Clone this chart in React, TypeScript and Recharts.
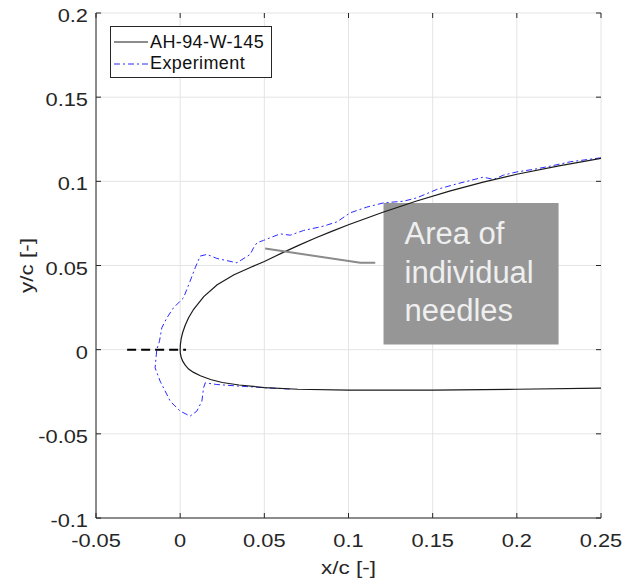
import { CartesianGrid, Line, LineChart, ReferenceArea, XAxis, YAxis } from 'recharts'

// Airfoil leading-edge contour vs. measured ice/needle outline.
// All coordinates are chord-normalised (x/c, y/c).

const xTicks = [-0.05, 0, 0.05, 0.1, 0.15, 0.2, 0.25]
const yTicks = [-0.1, -0.05, 0, 0.05, 0.1, 0.15, 0.2]

// upper surface, trailing side -> leading edge
const upperX = [0.25, 0.225, 0.2, 0.18, 0.16, 0.14, 0.12, 0.1, 0.09, 0.08, 0.07, 0.06, 0.05, 0.042, 0.032, 0.022, 0.014, 0.008, 0.005, 0.003, 0.0015, 0.0006, 0.0001, 0]
const upperY = [0.1136, 0.1092, 0.1042, 0.0995, 0.0942, 0.0882, 0.0815, 0.0742, 0.0703, 0.0662, 0.0618, 0.0572, 0.0524, 0.049, 0.0445, 0.0385, 0.0315, 0.024, 0.019, 0.0145, 0.0102, 0.0065, 0.0028, 0]

// lower surface, leading edge -> trailing side
const lowerX = [0.0001, 0.0006, 0.0015, 0.003, 0.005, 0.008, 0.012, 0.018, 0.025, 0.035, 0.05, 0.07, 0.1, 0.15, 0.2, 0.25]
const lowerY = [-0.0022, -0.0045, -0.0068, -0.0092, -0.0115, -0.0135, -0.0155, -0.0177, -0.0195, -0.021, -0.0225, -0.0235, -0.024, -0.024, -0.0235, -0.0228]

// measured outline, upper right around the nose to the lower side
const expX = [0.25, 0.2317, 0.2198, 0.2099, 0.2, 0.1921, 0.1862, 0.1802, 0.1644, 0.1525, 0.1406, 0.1327, 0.1208, 0.1109, 0.101, 0.0931, 0.0852, 0.0733, 0.0654, 0.0594, 0.0495, 0.0456, 0.0436, 0.0416, 0.0337, 0.0218, 0.0159, 0.0119, 0.0089, 0.0059, 0.002, -0.004, -0.0079, -0.0109, -0.0123, -0.0139, -0.0149, -0.0119, -0.0059, 0, 0.0059, 0.0099, 0.0129, 0.0139, 0.0149, 0.0218, 0.0357, 0.05, 0.065]
const expY = [0.114, 0.1116, 0.109, 0.1071, 0.1056, 0.1037, 0.1011, 0.1025, 0.0985, 0.0952, 0.0902, 0.0882, 0.0872, 0.0847, 0.0813, 0.0759, 0.0734, 0.0708, 0.068, 0.0688, 0.0649, 0.0635, 0.0605, 0.0566, 0.0516, 0.0542, 0.0566, 0.0556, 0.0486, 0.0407, 0.0308, 0.0248, 0.0189, 0.013, 0.005, 0, -0.0108, -0.0187, -0.0306, -0.0365, -0.0395, -0.0365, -0.0306, -0.0227, -0.0197, -0.0207, -0.0217, -0.0226, -0.0234]

// stagnation line ahead of the nose
const chordX = [-0.0315, 0.0035]
const chordY = [0, 0]

// callout pointer and box
const pointerX = [0.0505, 0.107, 0.1159]
const pointerY = [0.0601, 0.0516, 0.0516]
const calloutBox = { x1: 0.1208, x2: 0.2248, y1: 0.0031, y2: 0.0872 }
const calloutLines = ['Area of', 'individual', 'needles']

const legendItems = [
  { label: 'AH-94-W-145', color: '#1a1a1a', dash: undefined },
  { label: 'Experiment', color: '#2a2aff', dash: '6 3 2 3' },
]

const toPoints = (xs: number[], ys: number[]) => xs.map((x, i) => ({ x, y: ys[i] }))

const airfoil = [...toPoints(upperX, upperY), ...toPoints(lowerX, lowerY)]
const experiment = toPoints(expX, expY)
const chord = toPoints(chordX, chordY)
const pointer = toPoints(pointerX, pointerY)

const W = 623
const H = 582
const LEFT = 96
const TOP = 13
const SIZE = 505
const RIGHT = LEFT + SIZE
const BOTTOM = TOP + SIZE
const FONT = '"Liberation Sans", Arial, Helvetica, sans-serif'
const AXIS = '#262626'
const TICK_LEN = 5
const STRETCH = 1.18 // axis text is drawn a little wide

function WideText({ x, y, anchor, size, rotate = 0, children }: any) {
  return (
    <text
      transform={`translate(${x} ${y}) rotate(${rotate}) scale(${STRETCH} 1)`}
      textAnchor={anchor}
      fill={AXIS}
      fontSize={size}
      fontFamily={FONT}
    >
      {children}
    </text>
  )
}

function XTick(props: any) {
  const { x, payload } = props
  return (
    <g>
      <line x1={x} x2={x} y1={BOTTOM} y2={BOTTOM - TICK_LEN} stroke={AXIS} />
      <line x1={x} x2={x} y1={TOP} y2={TOP + TICK_LEN} stroke={AXIS} />
      <WideText x={x} y={BOTTOM + 29} anchor="middle" size={18.5}>
        {String(payload.value)}
      </WideText>
    </g>
  )
}

function YTick(props: any) {
  const { y, payload } = props
  return (
    <g>
      <line x1={LEFT} x2={LEFT + TICK_LEN} y1={y} y2={y} stroke={AXIS} />
      <line x1={RIGHT} x2={RIGHT - TICK_LEN} y1={y} y2={y} stroke={AXIS} />
      <WideText x={LEFT - 8} y={y + 9} anchor="end" size={18.5}>
        {String(payload.value)}
      </WideText>
    </g>
  )
}

function CalloutText(props: any) {
  const { x, y } = props.viewBox
  return (
    <g>
      {calloutLines.map((t, i) => (
        <text key={t} x={x + 21} y={y + 41.6 + i * 38.3} fill="#efefef" fontSize={31} fontFamily={FONT}>
          {t}
        </text>
      ))}
    </g>
  )
}

export default function App() {
  const midY = (TOP + BOTTOM) / 2
  return (
    <div style={{ position: 'absolute', left: 0, top: 0, width: W, height: H, background: '#fff' }}>
      <LineChart width={W} height={H} margin={{ top: TOP, right: W - RIGHT, bottom: 0, left: 0 }}>
        <CartesianGrid stroke="#e4e4e4" strokeWidth={1} />
        <XAxis
          type="number"
          dataKey="x"
          domain={[-0.05, 0.25]}
          ticks={xTicks}
          allowDataOverflow
          height={H - BOTTOM}
          axisLine={{ stroke: AXIS }}
          tickLine={false}
          tick={<XTick />}
        />
        <XAxis xAxisId="top" orientation="top" type="number" domain={[-0.05, 0.25]} height={0} axisLine={{ stroke: AXIS }} tick={false} tickLine={false} />
        <YAxis
          type="number"
          dataKey="y"
          domain={[-0.1, 0.2]}
          ticks={yTicks}
          allowDataOverflow
          width={LEFT}
          axisLine={{ stroke: AXIS }}
          tickLine={false}
          tick={<YTick />}
        />
        <YAxis yAxisId="right" orientation="right" type="number" domain={[-0.1, 0.2]} width={0} axisLine={{ stroke: AXIS }} tick={false} tickLine={false} />
        <Line data={experiment} dataKey="y" type="linear" stroke="#2a2aff" strokeWidth={1} strokeDasharray="6 3 2 3" dot={false} isAnimationActive={false} />
        <Line data={airfoil} dataKey="y" type="linear" stroke="#1a1a1a" strokeWidth={1.2} dot={false} isAnimationActive={false} />
        <Line data={chord} dataKey="y" type="linear" stroke="#000" strokeWidth={2} strokeDasharray="9 5" dot={false} isAnimationActive={false} />
        <Line data={pointer} dataKey="y" type="linear" stroke="#8a8a8a" strokeWidth={2} dot={false} isAnimationActive={false} />
        <ReferenceArea
          x1={calloutBox.x1}
          x2={calloutBox.x2}
          y1={calloutBox.y1}
          y2={calloutBox.y2}
          fill="#969696"
          fillOpacity={1}
          stroke="none"
          label={<CalloutText />}
        />
      </LineChart>

      <svg width={W} height={H} style={{ position: 'absolute', left: 0, top: 0, pointerEvents: 'none' }}>
        <WideText x={(LEFT + RIGHT) / 2} y={574} anchor="middle" size={19}>
          x/c [-]
        </WideText>
        <WideText x={33} y={midY} anchor="middle" size={19} rotate={-90}>
          y/c [-]
        </WideText>
      </svg>

      <div
        style={{
          position: 'absolute',
          left: 110,
          top: 26,
          width: 160,
          height: 50,
          border: `1px solid ${AXIS}`,
          background: '#fff',
          fontFamily: FONT,
          fontSize: 18,
          letterSpacing: 0.4,
          color: '#111',
        }}
      >
        {legendItems.map((item, i) => (
          <div key={item.label} style={{ position: 'absolute', left: 2, top: 4 + i * 21.6, height: 22, display: 'flex', alignItems: 'center' }}>
            <svg width={36} height={22}>
              <line x1={1} x2={35} y1={11} y2={11} stroke={item.color} strokeWidth={1} strokeDasharray={item.dash} />
            </svg>
            <span style={{ marginLeft: 1, whiteSpace: 'nowrap' }}>{item.label}</span>
          </div>
        ))}
      </div>
    </div>
  )
}
